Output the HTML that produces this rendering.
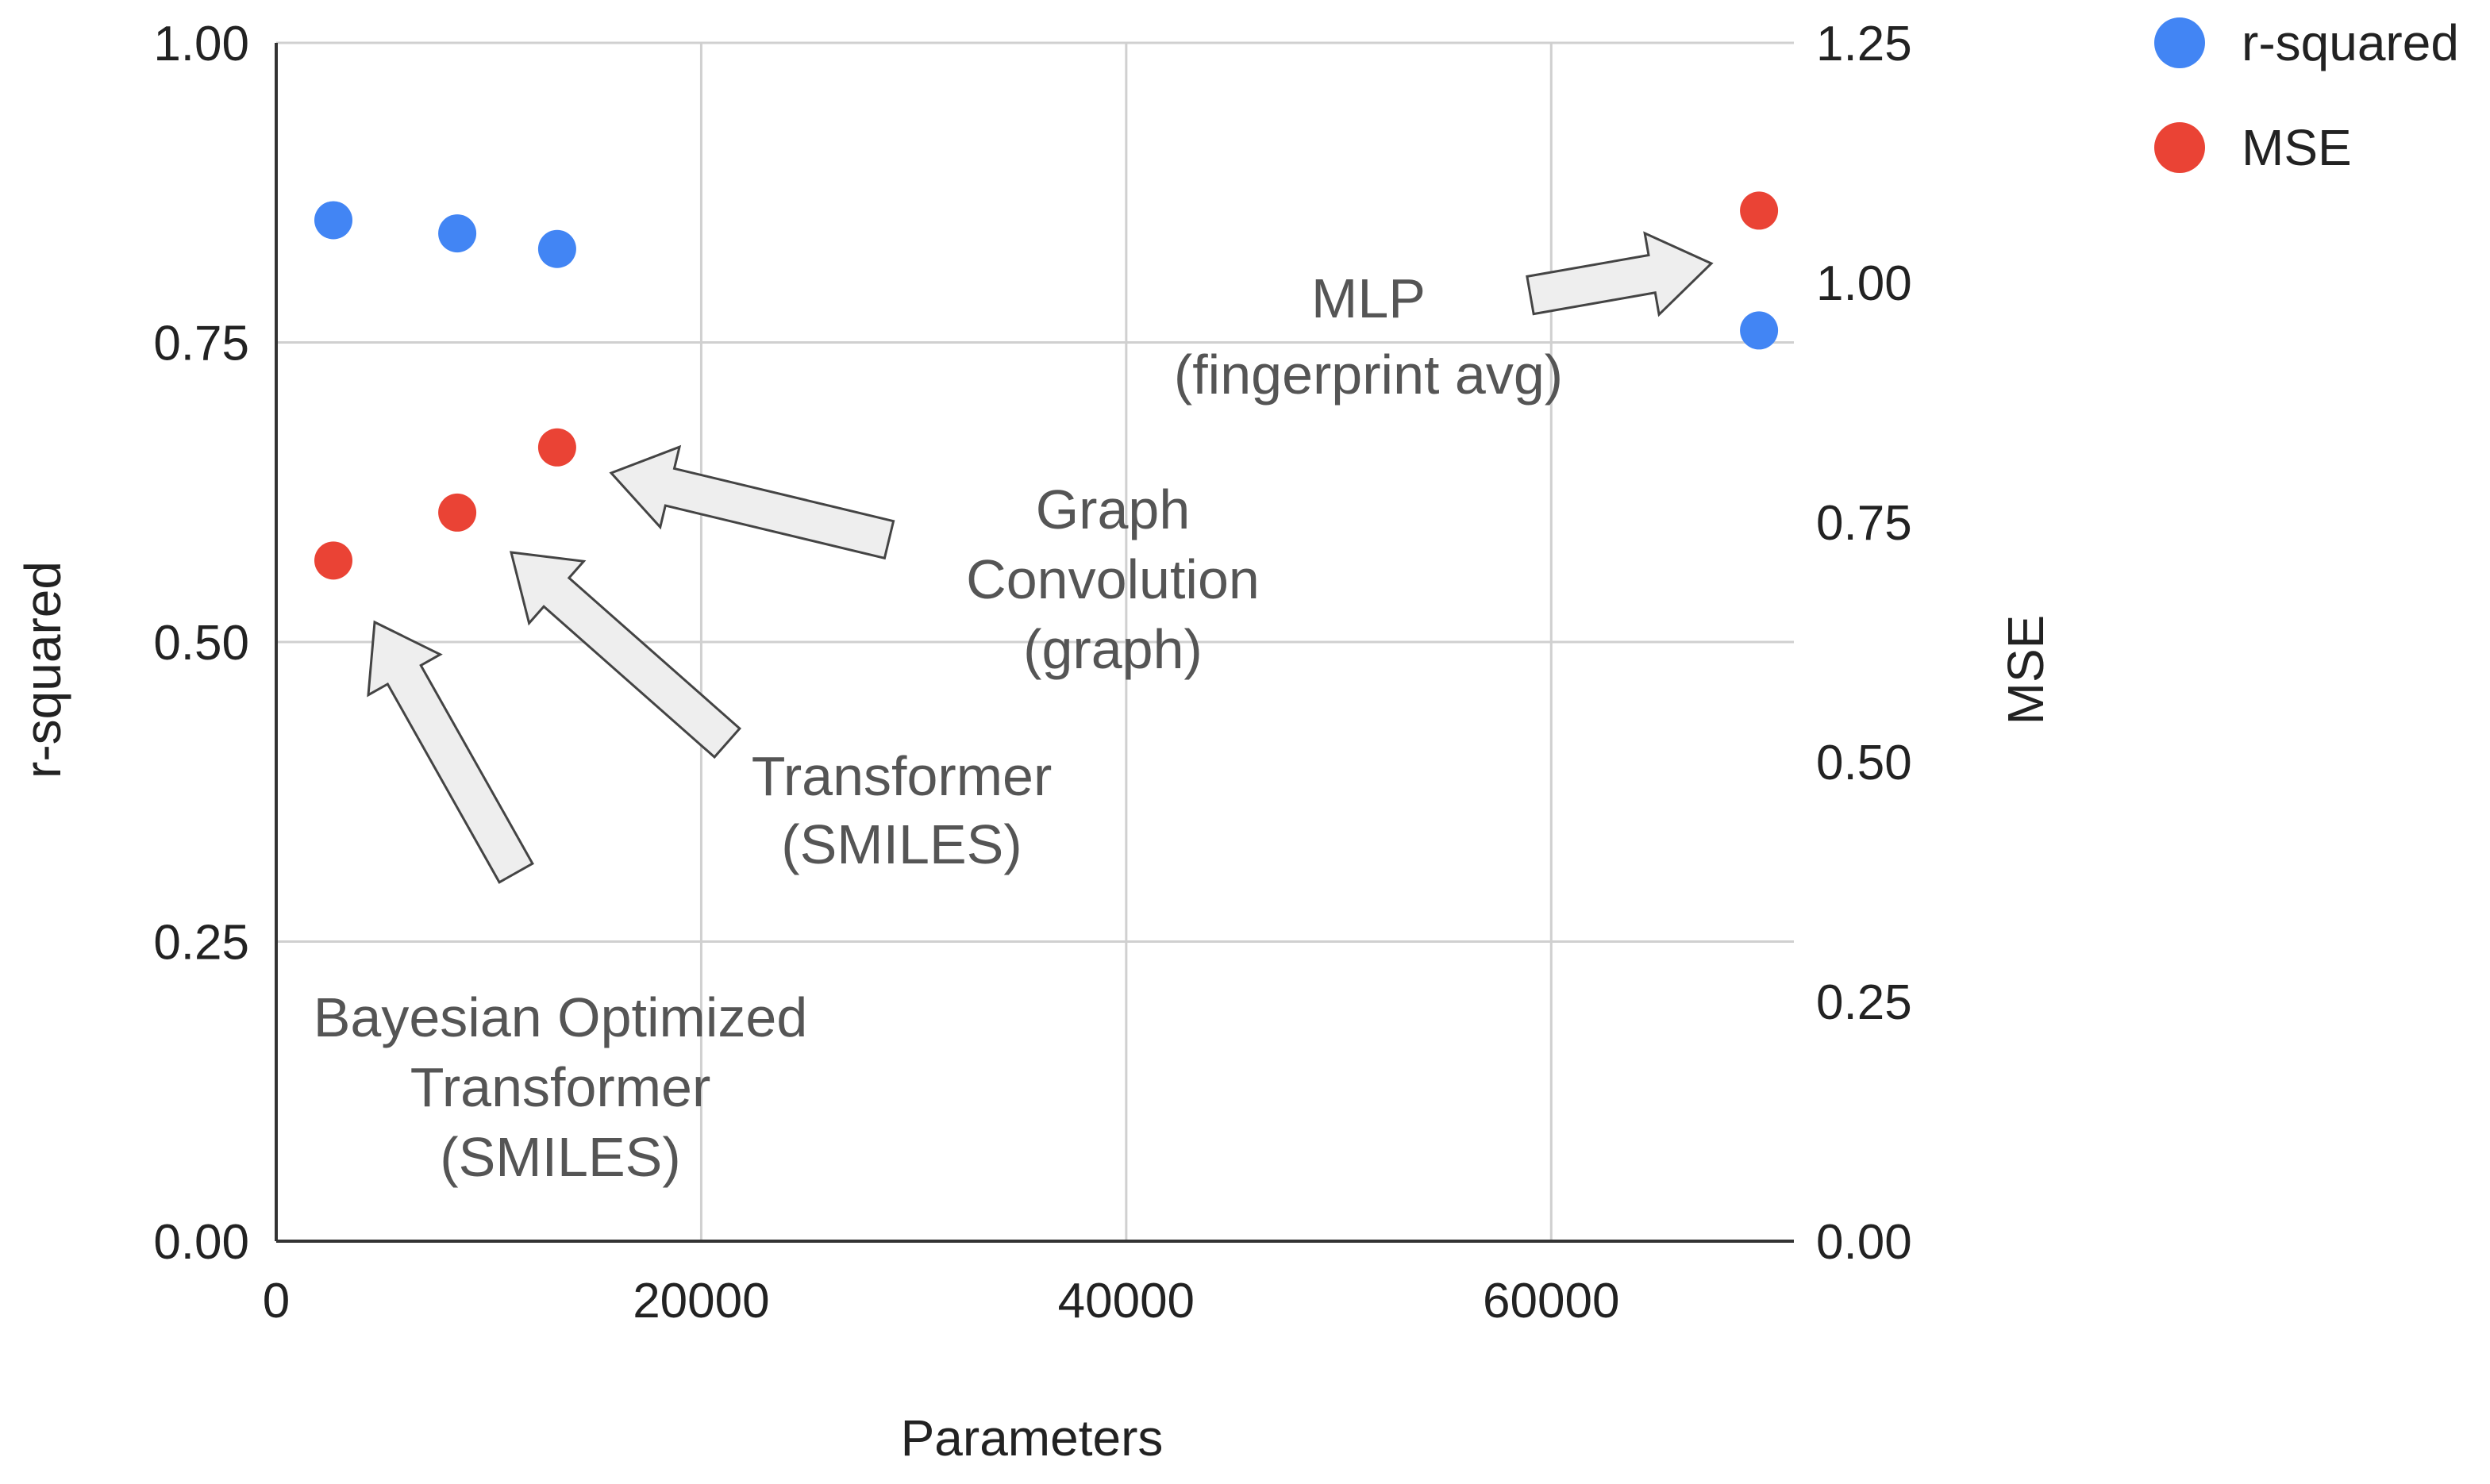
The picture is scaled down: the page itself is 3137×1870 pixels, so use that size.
<!DOCTYPE html>
<html><head><meta charset="utf-8"><style>
html,body{margin:0;padding:0;background:#fff}
svg{display:block;font-family:"Liberation Sans",Arial,sans-serif}
</style></head><body>
<svg id="chart" width="3137" height="1870" viewBox="0 0 1568.5 935" xmlns="http://www.w3.org/2000/svg">
<g id="grid"></g>
<g id="arrows"></g>
<g id="marks"></g>
<g id="labels"></g>
</svg>
<script>
const xTicks=[0,20000,40000,60000];
const leftTicks=[0,0.25,0.5,0.75,1.0];
const rightTicks=[0,0.25,0.5,0.75,1.0,1.25];
const params=[2690,8520,13220,69780];
const rsquared=[0.852,0.841,0.828,0.760];
const mse=[0.710,0.760,0.828,1.075];

const NS='http://www.w3.org/2000/svg';
const L=174,R=1130,T=27,B=782;
const xMax=71420;
const xs=v=>L+(v/xMax)*(R-L);
const yl=v=>B-(v/1)*(B-T);
const yr=v=>B-(v/1.25)*(B-T);
function mk(tag,parent,attrs){const e=document.createElementNS(NS,tag);for(const k in attrs)e.setAttribute(k,attrs[k]);document.getElementById(parent).appendChild(e);return e;}

xTicks.forEach(t=>{
  if(t>0){const g=mk('line','grid',{x1:xs(t),x2:xs(t),y1:T,y2:B,stroke:'#d0d0d0','stroke-width':1.5});
  
  }
  const tx=mk('text','labels',{x:xs(t),y:B+48,'text-anchor':'middle','font-size':31,fill:'#222'});
  tx.textContent=String(t);
  
  
});
leftTicks.forEach(t=>{
  if(t>0){const g=mk('line','grid',{x1:L,x2:R,y1:yl(t),y2:yl(t),stroke:'#d0d0d0','stroke-width':1.5});
  
  }
  const tx=mk('text','labels',{x:157,y:yl(t)+11,'text-anchor':'end','font-size':31,fill:'#222'});
  tx.textContent=t.toFixed(2);
  
  
});
rightTicks.forEach(t=>{
  const tx=mk('text','labels',{x:1144,y:yr(t)+11,'text-anchor':'start','font-size':31,fill:'#222'});
  tx.textContent=t.toFixed(2);
  
  
});
const ax1=mk('line','grid',{x1:L,x2:L,y1:T,y2:B,stroke:'#333','stroke-width':2});


const ax2=mk('line','grid',{x1:L,x2:R,y1:B,y2:B,stroke:'#333','stroke-width':2});



function arrow(x1,y1,x2,y2){
  const dx=x2-x1,dy=y2-y1,len=Math.hypot(dx,dy),ux=dx/len,uy=dy/len,px=-uy,py=ux;
  const sw=12,hw=26,hl=38;
  const bx=x2-ux*hl,by=y2-uy*hl;
  const pts=[[x1+px*sw,y1+py*sw],[bx+px*sw,by+py*sw],[bx+px*hw,by+py*hw],[x2,y2],[bx-px*hw,by-py*hw],[bx-px*sw,by-py*sw],[x1-px*sw,y1-py*sw]];
  const p=mk('polygon','arrows',{points:pts.map(q=>q.join(',')).join(' '),fill:'#eeeeee',stroke:'#444','stroke-width':1.5});
  
  
}
arrow(325,550,236,392);
arrow(458,468,322,348);
arrow(560,340,385,298);
arrow(964,186,1078,166);

params.forEach((p,i)=>{
  const c=mk('circle','marks',{cx:xs(p),cy:yl(rsquared[i]),r:12,fill:'#4285f4'});
  
  
  const d=mk('circle','marks',{cx:xs(p),cy:yr(mse[i]),r:12,fill:'#ea4335'});
  
  
});

const notes=[[862,200,'MLP'],[862,248,'(fingerprint avg)'],[701,333,'Graph'],[701,377,'Convolution'],[701,421,'(graph)'],[568,501,'Transformer'],[568,544,'(SMILES)'],[353,653,'Bayesian Optimized'],[353,697,'Transformer'],[353,741,'(SMILES)']];
notes.forEach(n=>{
  const t=mk('text','labels',{x:n[0],y:n[1],'text-anchor':'middle','font-size':35,fill:'#555'});
  t.textContent=n[2];
  
  
});
let t=mk('text','labels',{x:650,y:917,'text-anchor':'middle','font-size':32,fill:'#222'});t.textContent='Parameters';


t=mk('text','labels',{x:0,y:0,transform:'translate(38,422) rotate(-90)','text-anchor':'middle','font-size':32,fill:'#222'});t.textContent='r-squared';


t=mk('text','labels',{x:0,y:0,transform:'translate(1287,422) rotate(-90)','text-anchor':'middle','font-size':32,fill:'#222'});t.textContent='MSE';


let c=mk('circle','labels',{cx:1373,cy:27,r:16,fill:'#4285f4'});


t=mk('text','labels',{x:1412,y:38,'font-size':32,fill:'#222'});t.textContent='r-squared';


c=mk('circle','labels',{cx:1373,cy:93,r:16,fill:'#ea4335'});


t=mk('text','labels',{x:1412,y:104,'font-size':32,fill:'#222'});t.textContent='MSE';


</script>
</body></html>
